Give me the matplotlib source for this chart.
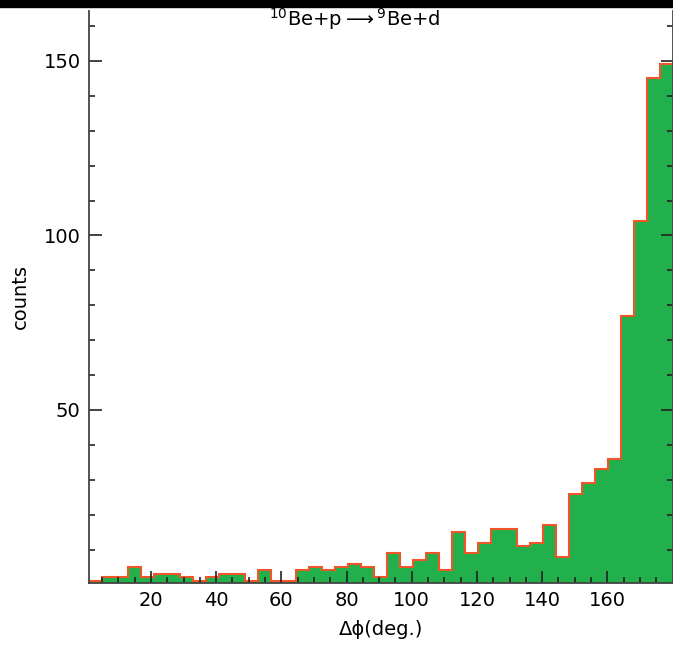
import numpy as np
import matplotlib
matplotlib.use("Agg")
import matplotlib.pyplot as plt
from matplotlib.patches import Rectangle

# histogram of delta phi, 45 bins between 1 and 180 deg
bin_lo, bin_hi, n_bins = 1, 180, 45
counts = [1, 2, 2, 5, 2, 3, 3, 2, 1, 2, 3, 3, 1, 4, 1,
          1, 4, 5, 4, 5, 6, 5, 2, 9, 5, 7, 9, 4, 15, 9,
          12, 16, 16, 11, 12, 17, 8, 26, 29, 33, 36, 77, 104, 145, 149]
x_ticks = [20, 40, 60, 80, 100, 120, 140, 160]
y_ticks = [50, 100, 150]

edges = np.linspace(bin_lo, bin_hi, n_bins + 1)

plt.rcParams['font.family'] = ['DejaVu Sans']
fig = plt.figure(figsize=(6.73, 6.48), dpi=100)
ax = fig.add_axes([89 / 673, 65.3 / 648, 583.5 / 673, 571.7 / 648])

green = "#21b04b"
orange = "#f0562a"
ax.stairs(counts, edges, fill=True, color=green, baseline=0)
ax.stairs(counts, edges, color=orange, linewidth=1.5, baseline=None)

ax.set_xlim(bin_lo, bin_hi)
ax.set_ylim(0.5, 164.3)

ax.set_xticks(x_ticks)
ax.set_xticks(np.arange(5, 180, 5), minor=True)
ax.set_yticks(y_ticks)
ax.set_yticks(np.arange(10, 165, 10), minor=True)

spine_col = "#444444"
for s in ["left", "right", "bottom"]:
    ax.spines[s].set_color(spine_col)
    ax.spines[s].set_linewidth(1.3)
ax.spines["top"].set_visible(False)

ax.tick_params(which="both", direction="in", right=True, top=False,
               color="#222222", width=1.2, labelsize=14)
ax.tick_params(which="major", length=9, pad=6)
ax.tick_params(which="minor", length=4.3)

ax.set_xlabel("Δϕ(deg.)", fontsize=14, labelpad=7)
ax.set_ylabel("counts", fontsize=14, labelpad=10)

fig.text(355 / 673, 1 - 19 / 648, r"$^{10}$Be+p$\longrightarrow$$^{9}$Be+d",
         ha="center", va="center", fontsize=14)

# black strip along the top edge
fig.patches.append(Rectangle((0, 1 - 7 / 648), 1, 7 / 648, color="black",
                             transform=fig.transFigure, zorder=10))

fig.savefig("out.png", dpi=100)
